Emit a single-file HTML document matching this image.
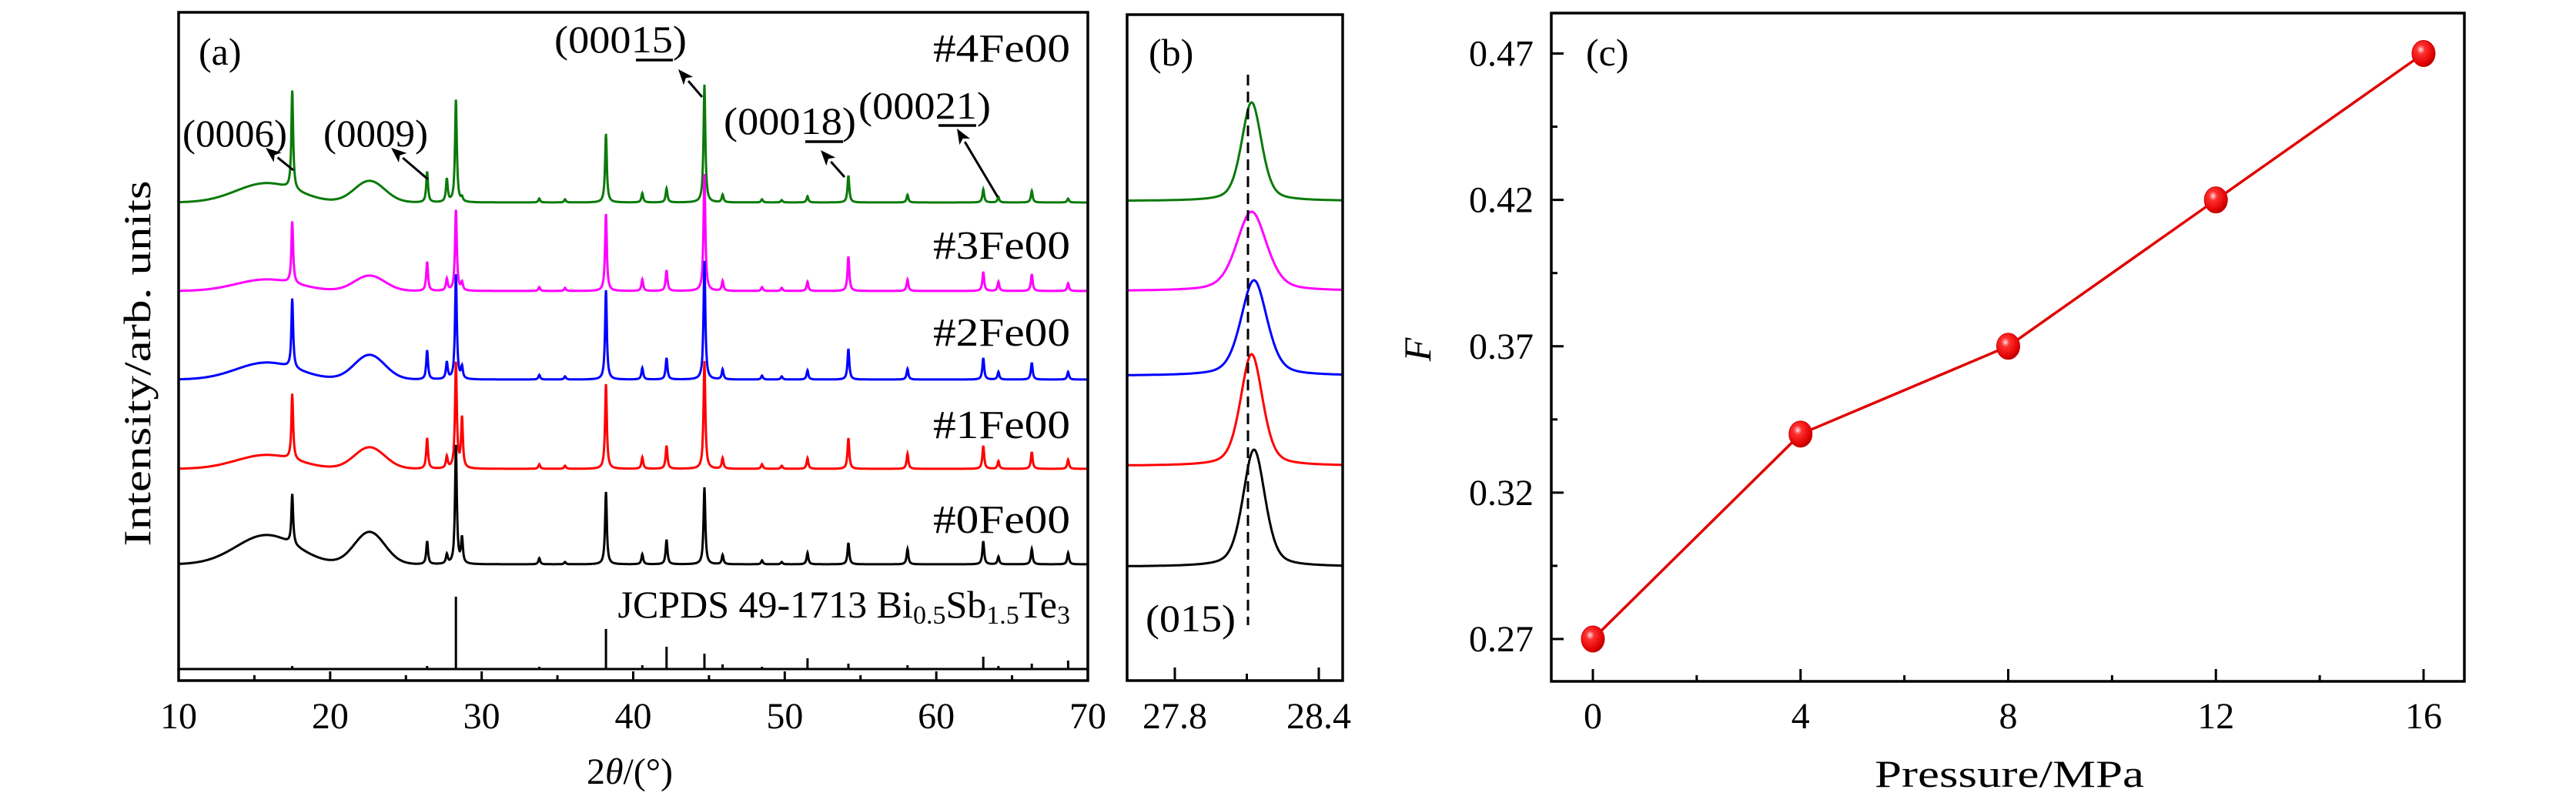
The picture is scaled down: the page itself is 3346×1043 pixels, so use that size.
<!DOCTYPE html>
<html><head><meta charset="utf-8"><style>
html,body{margin:0;padding:0;background:#fff;}
svg{display:block;font-family:"Liberation Serif",serif;}
</style></head><body>
<svg id="fig" width="3346" height="1043" viewBox="0 0 3346 1043" xmlns="http://www.w3.org/2000/svg">
<defs>
<radialGradient id="ball" cx="0.38" cy="0.35" r="0.7">
<stop offset="0" stop-color="#ffe0e0"/><stop offset="0.25" stop-color="#ff3030"/><stop offset="0.8" stop-color="#e00000"/><stop offset="1" stop-color="#a00000"/>
</radialGradient>
<clipPath id="clipA"><rect x="232" y="16" width="1181" height="868"/></clipPath>
<clipPath id="clipB"><rect x="1464" y="19" width="280" height="865"/></clipPath>
</defs>
<g id="gA"></g>
<g id="gB"></g>
<g id="gC"></g>
</svg>
<script>
// ---------- Panel (a) data ----------
const peakPos = [17.5,26.4,27.7,28.3,28.7,33.8,35.5,38.2,40.6,42.2,44.7,45.9,48.5,49.8,51.5,54.2,58.1,63.1,64.1,66.3,68.7];
const ampGreen   = [128,40,30,133,5,5,4,89,12,18,153,10,4,3,8,35,10,17,7,15,5];
const ampMagenta = [80,38,15,105,10,5,4,100,15,27,152,13,5,4,12,45,15,25,12,22,10];
const ampBlue    = [90,38,22,136,15,6,4,116,15,28,154,13,5,4,12,40,14,28,10,22,10];
const ampRed     = [85,40,15,137,65,6,4,110,15,30,140,14,6,4,14,40,20,30,10,22,12];
const ampBlack   = [65,30,12,154,33,8,3,94,13,32,100,12,5,3,15,28,20,30,10,20,15];
const humpCenters = [15.8,22.6];
const humpGreen=[25,28], humpMagenta=[15,20], humpBlue=[22,32], humpRed=[18,28], humpBlack=[38,42];
const seriesNames = ["#4Fe00","#3Fe00","#2Fe00","#1Fe00","#0Fe00"];
const seriesColors = ["#0a7a0a","#ff00ff","#0000ff","#ff0000","#000000"];
const seriesOffsets = [263,378,493,609,733];
const stickPos = [17.5,26.4,28.3,33.8,38.2,40.6,42.2,44.7,45.9,48.5,51.5,54.2,58.1,63.1,64.1,66.3,68.7];
const stickAmp = [3,3,93,2,51,4,28,19,5,2,13,6,4,15,3,6,10];
const xTicksA = [10,20,30,40,50,60,70];
// ---------- Panel (b) data ----------
const bCenter = [28.12,28.12,28.13,28.12,28.13];
const bAmp = [128,103,124,145,152];
const bWidth = [0.05,0.075,0.065,0.055,0.055];
const bBase = [261,378,488,605,736];
const xTicksB = [27.8,28.4];
// ---------- Panel (c) data ----------
const pressure = [0,4,8,12,16];
const Fvals = [0.27,0.34,0.37,0.42,0.47];
const xTicksC = [0,4,8,12,16];
const yTicksC = [0.27,0.32,0.37,0.42,0.47];

const NS="http://www.w3.org/2000/svg";
function el(tag,attrs,parent,text){const e=document.createElementNS(NS,tag);for(const k in attrs)e.setAttribute(k,attrs[k]);if(text!==undefined)e.textContent=text;parent.appendChild(e);return e;}
const FS=48;

// ===== Panel A =====
const gA=document.getElementById('gA');
const xA=v=>232+(v-10)*(1413-232)/60;
const ampsA=[ampGreen,ampMagenta,ampBlue,ampRed,ampBlack];
const humpsA=[humpGreen,humpMagenta,humpBlue,humpRed,humpBlack];
const clipG=el('g',{'clip-path':'url(#clipA)'},gA);


const labYs=[80,336,449,569,692];
for(let s=0;s<5;s++){
  let d='';
  for(let i=0;i<=3000;i++){
    const t=10+i*0.02;
    let I=humpsA[s][0]*Math.exp(-Math.pow((t-humpCenters[0])/2.0,2)/2)+humpsA[s][1]*Math.exp(-Math.pow((t-humpCenters[1])/1.0,2)/2);
    for(let p=0;p<peakPos.length;p++){const g=0.07;I+=ampsA[s][p]*g*g/((t-peakPos[p])**2+g*g);}
    d+=(i?'L':'M')+xA(t).toFixed(1)+','+(seriesOffsets[s]-I).toFixed(1);
  }
  const path=el('path',{d:d,fill:'none',stroke:seriesColors[s],'stroke-width':3},clipG);
  
  
  const lab=el('text',{x:1390,y:labYs[s],'font-size':52,'text-anchor':'end',textLength:178,lengthAdjust:'spacingAndGlyphs'},gA,seriesNames[s]);
  
  
}
let sd='';
for(let i=0;i<stickPos.length;i++){sd+='M'+xA(stickPos[i]).toFixed(1)+',868V'+(868-stickAmp[i]);}
const st=el('path',{d:sd,stroke:'#000','stroke-width':3,fill:'none'},gA);


const sb=el('line',{x1:232,x2:1413,y1:869,y2:869,stroke:'#000','stroke-width':3},gA);


const jc=el('text',{x:1390,y:802,'font-size':50,'text-anchor':'end'},gA);
jc.innerHTML='JCPDS 49-1713 Bi<tspan font-size="34" dy="8">0.5</tspan><tspan dy="-8">Sb</tspan><tspan font-size="34" dy="8">1.5</tspan><tspan dy="-8">Te</tspan><tspan font-size="34" dy="8">3</tspan>';


const fa=el('rect',{x:232,y:16,width:1181,height:868,fill:'none',stroke:'#000','stroke-width':3.5},gA);


for(let v=10;v<=70;v+=5){
  const tk=el('line',{x1:xA(v),x2:xA(v),y1:884,y2:v%10===0?872:877,stroke:'#000','stroke-width':3},gA);
  
  
}
xTicksA.forEach(v=>{
  const t=el('text',{x:xA(v),y:946,'font-size':FS,'text-anchor':'middle'},gA,String(v));
  
  
});
const xt=el('text',{x:818,y:1018,'font-size':FS,'text-anchor':'middle'},gA);
xt.innerHTML='2<tspan font-style="italic">θ</tspan>/(°)';


const yt=el('text',{x:0,y:0,'font-size':50,'text-anchor':'middle',textLength:475,lengthAdjust:'spacingAndGlyphs',transform:'translate(195,472) rotate(-90)'},gA,'Intensity/arb. units');


const pa=el('text',{x:258,y:84,'font-size':50},gA,'(a)');


const ann=[
 {t:'(0006)',x:237,y:190,u:null,a:[381,221,345,192]},
 {t:'(0009)',x:420,y:190,u:null,a:[556,233,508,192]},
 {t:'(00015)',x:720,y:68,u:[826,874,78],a:[912,126,881,90]},
 {t:'(00018)',x:940,y:174,u:[1046,1095,184],a:[1097,230,1066,195]},
 {t:'(00021)',x:1115,y:154,u:[1219,1268,163],a:[1296,256,1243,167]}
];
ann.forEach(o=>{
  const tx=el('text',{x:o.x,y:o.y,'font-size':50,textLength:(o.t.length===6?136:172),lengthAdjust:'spacingAndGlyphs'},gA,o.t);
  
  
  if(o.u){const u=el('line',{x1:o.u[0],x2:o.u[1],y1:o.u[2],y2:o.u[2],stroke:'#000','stroke-width':3.5},gA);
    
    }
  const [x1,y1,x2,y2]=o.a;
  const L=Math.hypot(x2-x1,y2-y1),ux=(x2-x1)/L,uy=(y2-y1)/L,hl=20,hw=8;
  const bx=x2-ux*hl,by=y2-uy*hl;
  const ar=el('line',{x1:x1,y1:y1,x2:bx,y2:by,stroke:'#000','stroke-width':3},gA);
  
  
  const hd=el('polygon',{points:`${x2},${y2} ${bx-uy*hw},${by+ux*hw} ${bx+ux*5},${by+uy*5} ${bx+uy*hw},${by-ux*hw}`,fill:'#000'},gA);
  
  
});

// ===== Panel B =====
const gB=document.getElementById('gB');
const xB=v=>1526+(v-27.8)*(1713-1526)/0.6;
const clipB=el('g',{'clip-path':'url(#clipB)'},gB);


for(let s=0;s<5;s++){
  let d='';
  for(let i=0;i<=300;i++){
    const t=27.58+i*0.0031;
    const g=bWidth[s];
    const I=bAmp[s]*(0.6*Math.exp(-Math.pow(t-bCenter[s],2)/(2*g*g*0.7))+0.4*g*g/((t-bCenter[s])**2+g*g));
    d+=(i?'L':'M')+xB(t).toFixed(1)+','+(bBase[s]-I).toFixed(1);
  }
  const p=el('path',{d:d,fill:'none',stroke:seriesColors[s],'stroke-width':3},clipB);
  
  
}
const dl=el('line',{x1:1621,x2:1621,y1:97,y2:812,stroke:'#000','stroke-width':3,'stroke-dasharray':'14,8'},gB);


const fb=el('rect',{x:1464,y:19,width:280,height:865,fill:'none',stroke:'#000','stroke-width':3.5},gB);


[27.8,28.1,28.4].forEach(v=>{
  const tk=el('line',{x1:xB(v),x2:xB(v),y1:884,y2:v===28.1?875:867,stroke:'#000','stroke-width':3},gB);
  
  
});
xTicksB.forEach(v=>{
  const t=el('text',{x:xB(v),y:946,'font-size':FS,'text-anchor':'middle'},gB,v.toFixed(1));
  
  
});
const pb=el('text',{x:1492,y:85,'font-size':50},gB,'(b)');


const pl=el('text',{x:1488,y:820,'font-size':50,textLength:117,lengthAdjust:'spacingAndGlyphs'},gB,'(015)');



// ===== Panel C =====
const gC=document.getElementById('gC');
const xC=v=>2069+(v-0)*(3148-2069)/16;
const yC=v=>830+(v-0.27)*(69.5-830)/0.2;
const fc=el('rect',{x:2015,y:17,width:1186,height:868,fill:'none',stroke:'#000','stroke-width':3.5},gC);


for(let v=0;v<=16;v+=2){
  const tk=el('line',{x1:xC(v),x2:xC(v),y1:885,y2:v%4===0?869:877,stroke:'#000','stroke-width':3},gC);
  
  
}
for(let k=0;k<=8;k++){const v=0.27+k*0.025;
  const tk=el('line',{x1:2015,x2:k%2===0?2031:2023,y1:yC(v),y2:yC(v),stroke:'#000','stroke-width':3},gC);
  
  
}
xTicksC.forEach(v=>{
  const t=el('text',{x:xC(v),y:946,'font-size':FS,'text-anchor':'middle'},gC,String(v));
  
  
});
yTicksC.forEach(v=>{
  const t=el('text',{x:1992,y:yC(v)+16,'font-size':FS,'text-anchor':'end'},gC,v.toFixed(2));
  
  
});
const xtc=el('text',{x:2610,y:1022,'font-size':50,'text-anchor':'middle',textLength:350,lengthAdjust:'spacingAndGlyphs'},gC,'Pressure/MPa');


const ytc=el('text',{x:0,y:0,'font-size':50,'font-style':'italic','text-anchor':'middle',transform:'translate(1858,454) rotate(-90)'},gC,'F');


const pc=el('text',{x:2060,y:85,'font-size':50},gC,'(c)');


let ld='';
pressure.forEach((p,i)=>{ld+=(i?'L':'M')+xC(p)+','+yC(Fvals[i]);});
const line=el('path',{d:ld,fill:'none',stroke:'#e00000','stroke-width':3.5},gC);


pressure.forEach((p,i)=>{
  const c=el('ellipse',{cx:xC(p),cy:yC(Fvals[i]),rx:15,ry:17,fill:'url(#ball)',stroke:'#d00000','stroke-width':1},gC);
  
  
});
</script>
</body></html>
